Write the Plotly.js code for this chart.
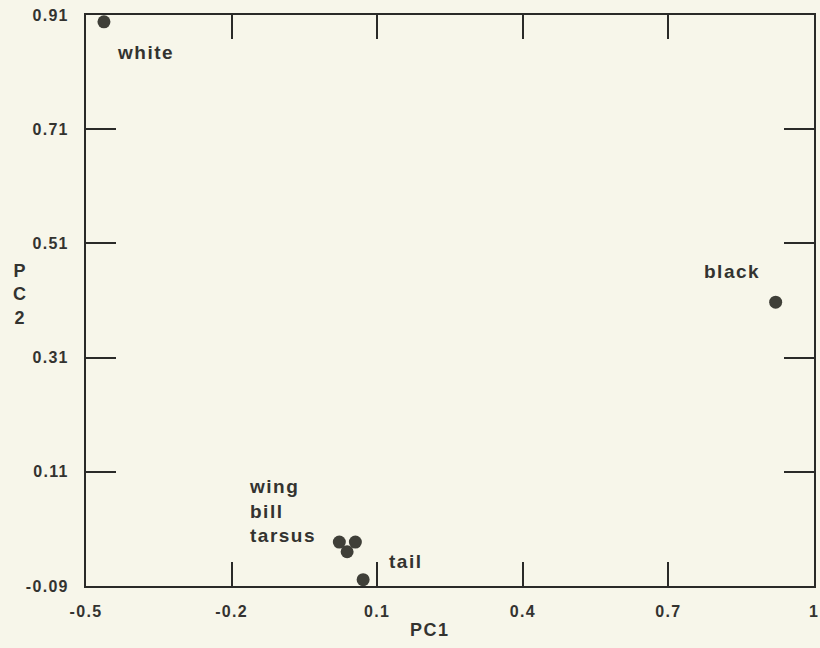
<!DOCTYPE html>
<html>
<head>
<meta charset="utf-8">
<script src="https://cdn.plot.ly/plotly-3.0.1.min.js"></script>
<style>
html,body{margin:0;padding:0;background:#f7f6ea;}
#chart{width:820px;height:648px;}
.xtick text,.ytick text{letter-spacing:1.3px;}
.annotation-text{letter-spacing:1.5px;}
</style>
</head>
<body>
<div id="chart"></div>
<script>
const names = ["white", "black", "wing", "bill", "tarsus", "tail"];
const pc1 = [-0.463, 0.921, 0.022, 0.055, 0.038, 0.071];
const pc2 = [0.898, 0.407, -0.013, -0.013, -0.030, -0.079];

const xTickVals = [-0.5, -0.2, 0.1, 0.4, 0.7, 1];
const xTickText = ["-0.5", "-0.2", "0.1", "0.4", "0.7", "1"];
const yTickVals = [-0.09, 0.11, 0.31, 0.51, 0.71, 0.91];
const yTickText = ["-0.09", "0.11", "0.31", "0.51", "0.71", "0.91"];

const ink = "#333330";
const fam = "Liberation Sans, Arial, sans-serif";
const lab = {family: fam, size: 19, color: ink, weight: "bold"};

const trace = {
  x: pc1, y: pc2, text: names, type: "scatter", mode: "markers",
  marker: {size: 13, color: "#3f3f38"}, hoverinfo: "text", cliponaxis: false
};

const annotations = [
  {x: pc1[0], y: pc2[0], text: "white", ax: 42, ay: 31},
  {x: pc1[1], y: pc2[1], text: "black", ax: -44, ay: -31},
  {x: 0.022, y: -0.013, text: "wing<br>bill<br>tarsus", ax: -92, ay: -31, align: "left", xanchor: "left"},
  {x: pc1[5], y: pc2[5], text: "tail", ax: 42, ay: -18}
].map(a => Object.assign({xref: "x", yref: "y", showarrow: true, arrowcolor: "rgba(0,0,0,0)", font: lab, axref: "pixel", ayref: "pixel"}, a));

annotations.push(
  {xref: "paper", yref: "paper", x: (430 - 86) / 728, y: -(630 - 586) / 571, text: "PC1", showarrow: false,
   font: {family: fam, size: 18, color: ink, weight: "bold"}, yanchor: "middle"},
  {xref: "paper", yref: "paper", x: (11 - 86) / 728, y: 1 - (294 - 15) / 571, text: "P<br>C<br>2", showarrow: false,
   font: {family: fam, size: 18, color: ink, weight: "bold"}, yanchor: "middle"}
);

const axisCommon = {
  showgrid: false, zeroline: false, showline: true, linecolor: "#2a2a28", linewidth: 2,
  mirror: "ticks", ticks: "inside", tickcolor: "#2a2a28", tickwidth: 2,
  tickmode: "array", tickfont: {family: fam, size: 16, color: ink, weight: "bold"}
};

const layout = {
  width: 820, height: 648,
  margin: {l: 86, r: 6, t: 15, b: 62},
  paper_bgcolor: "#f7f6ea", plot_bgcolor: "#f7f6ea",
  showlegend: false,
  xaxis: Object.assign({}, axisCommon, {range: [-0.5, 1], tickvals: xTickVals, ticktext: xTickText, ticklen: 24, ticklabelstandoff: 10}),
  yaxis: Object.assign({}, axisCommon, {range: [-0.09, 0.91], tickvals: yTickVals, ticktext: yTickText, ticklen: 30, ticklabelstandoff: 12}),
  annotations: annotations
};

Plotly.newPlot("chart", [trace], layout, {displayModeBar: false, staticPlot: true});
</script>
</body>
</html>
